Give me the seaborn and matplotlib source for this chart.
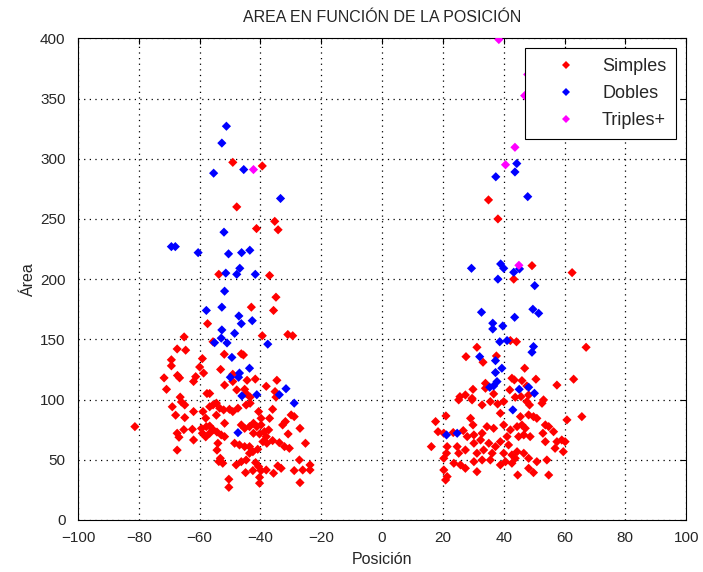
import matplotlib
matplotlib.use("Agg")
import matplotlib.pyplot as plt
import seaborn as sns
import pandas as pd

# Simples (single objects): position and area
simples_x = [
    -49.1, -39.4, -47.8, -35.3, -41.3, -34.2, -53.7, -37.0, -34.9,
    -57.4, -65.1, -55.6, -67.4, -64.6, -69.3, -69.3, -59.1, -60.0, -58.7,
    -67.3, -66.6, -71.7, -61.3, -62.0, -70.9, -66.4, -57.6, -56.7,
    -43.0, -35.7, -39.4, -31.0, -29.4, -51.9, -46.3, -45.6, -53.1, -49.1,
    -51.8, -49.1, -44.4, -41.7, -34.6, -38.1, -47.8, -45.2, -44.7, -35.2,
    -34.9, -43.4,
    -81.3, -69.0, -66.0, -64.9, -67.9, -64.9, -62.0, -58.9, -56.7, -55.6,
    -54.5, -58.0, -54.5, -67.4, -66.8, -65.2, -62.4, -59.4, -57.8, -56.7,
    -59.1, -58.0, -56.7, -55.6, -62.0, -54.3, -54.0, -54.3, -67.4, -53.7,
    -53.4, -52.1, -50.2, -49.1, -47.4, -44.7, -43.4, -40.6, -39.8, -37.0,
    -36.0, -29.9, -28.9, -27.0, -32.7, -31.8, -30.9, -25.2, -36.0, -33.8,
    -32.1, -30.5, -51.8, -46.3, -45.2, -43.6, -42.3, -41.2, -39.8, -38.7,
    -37.3, -42.3, -40.3, -38.1, -52.9, -51.8, -48.5, -46.9, -45.2, -43.6,
    -42.5, -40.9, -39.2, -37.9, -43.6, -44.7, -46.3, -48.0, -53.2, -52.4,
    -41.6, -40.6, -39.8, -44.9, -42.5, -38.1, -34.3, -33.2, -28.9, -27.2,
    -26.1, -23.7, -23.7, -50.4, -50.4, -40.3, -40.3, -27.0, -35.7,
    35.0, 38.1, 49.3, 62.5, 43.3,
    44.2, 67.1, 46.9, 43.5, 46.0, 50.6, 63.0, 57.5, 47.6, 45.7, 43.8, 48.2,
    31.2, 27.6, 33.2, 37.6, 42.2, 42.7, 34.0, 34.0, 29.9, 42.0, 27.4, 25.6,
    29.6, 36.7,
    25.2, 29.6, 32.9, 35.6, 38.0, 40.0, 38.9, 21.0, 17.6, 18.4, 20.3, 23.4,
    26.7, 29.1, 29.9, 28.0, 30.2, 32.9, 34.5, 36.7, 40.0, 42.2, 41.1, 32.4,
    30.2, 35.1, 38.9, 41.6, 37.3, 33.4, 31.2, 36.2, 40.0, 42.7, 27.4, 24.7,
    25.2, 21.4, 21.2, 20.3, 23.6, 25.8, 27.4, 30.2, 32.9, 35.6, 31.2, 21.4,
    20.9, 16.2, 38.9, 40.6, 42.7, 20.3,
    65.7, 60.8, 47.6, 48.5, 52.6, 53.1, 45.5, 48.2, 49.8, 50.9, 44.4, 46.0,
    47.1, 52.9, 53.7, 54.8, 56.4, 44.9, 46.6, 48.7, 53.7, 57.5, 59.1, 60.2,
    59.6, 56.9, 44.4, 46.6, 48.2, 43.8, 50.9, 54.2, 48.2, 49.8, 44.6, 54.8,
]
simples_y = [
    297, 294, 260, 248, 242, 241, 204, 203, 185,
    163, 152, 148, 142, 141, 133, 128, 134, 127, 122,
    120, 118, 118, 119, 115, 108.5, 102, 105, 105,
    176.7, 174, 153, 154, 153, 137.6, 138, 137, 125, 121,
    112, 115, 116, 117, 116, 111, 108, 108.5, 105, 106.6,
    102, 102,
    77.5, 94, 98, 95.5, 87, 85, 90, 90, 94, 95.5,
    97, 84.5, 87, 72, 68.7, 75, 75.3, 76, 77.5, 78,
    72, 69, 72, 75, 66.4, 73, 63.7, 58, 58, 48.5,
    92.8, 91.4, 91.9, 90, 92.8, 95.5, 96.9, 90, 84.4, 84.4,
    91.9, 87.2, 85.8, 76.1, 78.9, 81.7, 71.4, 63.7, 65.9, 64.2,
    60.9, 59.5, 80.3, 78.9, 76.1, 77.5, 80.3, 77.5, 78.9, 73.3,
    74.8, 72, 71.4, 69.2, 70.6, 69.2, 63.7, 62.3, 60.9, 60.9,
    56.7, 58.7, 65, 63.7, 55.4, 49.8, 48.4, 45.7, 51.2, 47.1,
    47.6, 44.3, 41, 39.3, 41, 41.5, 44.9, 42.9, 41, 49.8,
    41.5, 41.5, 45.7, 33.8, 27.1, 35.4, 30.5, 31, 38.8,
    265.8, 250, 211.2, 205.4, 200,
    148, 143.4, 126, 116.3, 115.7, 116.9, 116.9, 112, 111.3, 102.4, 101.9, 103.8,
    143.4, 135.6, 131, 136.2, 149, 117.7, 113.5, 109.4, 108.5, 108, 103.8, 102.4,
    101, 104.7,
    99.7, 99.7, 95.5, 98.3, 96.3, 98.3, 88.6, 86.4, 81.7, 73.3, 72, 72.6,
    74.2, 84.4, 78.9, 69.2, 70.6, 72, 77.5, 76.1, 78.9, 74.8, 69.2, 66.4,
    63.7, 63.7, 65, 62.3, 60.9, 58.1, 55.4, 55.4, 55.4, 54, 58.1, 60.9,
    55.4, 60.9, 55.4, 51.2, 47.1, 45.7, 42.9, 48.4, 49.8, 49.8, 40.1, 36,
    33.2, 60.9, 45.7, 48.4, 47.1, 41.5,
    85.8, 83.1, 98.3, 95.5, 96.9, 99.7, 85.8, 87.2, 85.8, 84.4, 77.5, 78.9,
    76.1, 72, 78.9, 77.5, 73.3, 69.2, 70.6, 69.2, 65, 65, 66.4, 65,
    56.7, 59.5, 56.7, 55.4, 51.2, 51.2, 48.4, 49.8, 42.9, 39.3, 37.3, 37.3,
]

# Dobles (two merged objects)
dobles_x = [
    -51.2, -52.7, -55.4, -45.5, -33.4, -52.0, -69.3, -68.0, -60.5, -50.5,
    -46.2, -43.5, -46.8, -51.4, -47.8, -41.7, -51.8,
    -57.8, -55.1,
    -52.7, -47.1, -46.3, -42.7, -52.7, -48.5, -52.9, -51.0, -37.6, -49.4,
    -43.6, -46.9, -49.9, -47.2, -31.6, -33.8, -46.1, -41.2,
    -28.9, -47.4,
    44.3, 43.7, 37.4, 47.9, 29.4, 39.0, 40.0, 43.3, 45.2, 38.1, 50.2,
    49.6, 51.5, 43.6, 49.8, 49.3, 45.1, 48.2, 50.1,
    32.7, 36.4, 36.4, 39.7, 38.7, 41.1, 32.1, 37.3, 39.4, 37.3, 37.8, 36.7, 35.4,
    21.2, 24.7, 43.0,
]
dobles_y = [
    327, 313, 288, 291, 267, 239, 227, 227, 222, 221,
    222, 224, 209, 205, 204, 204, 190,
    174, 147.2,
    176.7, 169.4, 163, 165.5, 157.8, 155, 151, 147, 146, 135,
    126, 122, 118.5, 118.5, 109, 104, 103, 104,
    97, 72.5,
    296, 289, 285, 268.5, 209, 212.6, 209, 205.7, 208.5, 200, 194.6,
    175, 171.6, 168.3, 144, 139.3, 108.5, 110.2, 105.2,
    172.5, 163.4, 158.6, 161.1, 148, 149, 135.6, 132.3, 126, 122.4, 114.9, 111.3, 110.2,
    70.6, 72, 91.4,
]

# Triples+ (three or more merged objects)
triples_x = [-42.3, 38.4, 46.9, 43.7, 40.6, 45.0, 47.9]
triples_y = [291, 399, 352.4, 309.5, 295, 211.5, 370]

x_ticks = list(range(-100, 101, 20))
y_ticks = list(range(0, 401, 50))

df = pd.concat([
    pd.DataFrame({"Posición": simples_x, "Área": simples_y, "Tipo": "Simples"}),
    pd.DataFrame({"Posición": dobles_x, "Área": dobles_y, "Tipo": "Dobles"}),
    pd.DataFrame({"Posición": triples_x, "Área": triples_y, "Tipo": "Triples+"}),
], ignore_index=True)

sns.set_style("white")
plt.rcParams["font.family"] = ["Liberation Sans", "DejaVu Sans"]

fig = plt.figure(figsize=(7.03, 5.72), dpi=100)
ax = fig.add_axes([0.111, 0.091, 0.865, 0.842])

palette = {"Simples": "#ff0000", "Dobles": "#0000ff", "Triples+": "#ff00ff"}
sns.scatterplot(data=df, x="Posición", y="Área", hue="Tipo", palette=palette,
                marker="D", s=22, linewidth=0, ax=ax, zorder=3)

ax.set_xlim(-100, 100)
ax.set_ylim(0, 400)
ax.set_xticks(x_ticks)
ax.set_yticks(y_ticks)
ax.grid(True, linestyle=(0, (1, 3.5)), color="black", linewidth=0.9)
ax.tick_params(direction="in", top=True, right=True, length=4,
               labelsize=11, color="black")
ax.tick_params(axis="x", pad=8)
ax.tick_params(axis="y", pad=9)
for sp in ax.spines.values():
    sp.set_color("black")
    sp.set_linewidth(0.8)

ax.set_title("AREA EN FUNCIÓN DE LA POSICIÓN", fontsize=11.5, pad=12)
ax.set_xlabel("Posición", fontsize=11.5, labelpad=5)
ax.set_ylabel("Área", fontsize=11.5, labelpad=3)

leg = ax.legend(loc="upper right", fontsize=13, frameon=True, fancybox=False,
                framealpha=1.0, edgecolor="black", markerscale=0.9,
                handletextpad=0.3, borderpad=0.55, labelspacing=0.55,
                handlelength=3.4, borderaxespad=0.55)
leg.get_frame().set_linewidth(0.8)
leg.set_zorder(5)

fig.savefig("out.png", dpi=100)
